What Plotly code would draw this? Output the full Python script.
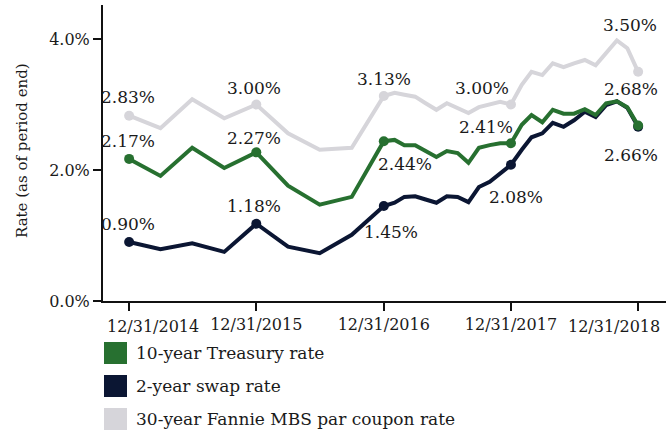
import plotly.graph_objects as go

# ---- data -------------------------------------------------------------
dates = [
    "2014-12-31", "2015-03-31", "2015-06-30", "2015-09-30", "2015-12-31",
    "2016-03-31", "2016-06-30", "2016-09-30", "2016-12-31",
    "2017-01-31", "2017-02-28", "2017-03-31", "2017-04-30", "2017-05-31",
    "2017-06-30", "2017-07-31", "2017-08-31", "2017-09-30", "2017-10-31",
    "2017-11-30", "2017-12-31",
    "2018-01-31", "2018-02-28", "2018-03-31", "2018-04-30", "2018-05-31",
    "2018-06-30", "2018-07-31", "2018-08-31", "2018-09-30", "2018-10-31",
    "2018-11-30", "2018-12-31",
]

treasury_10y = [
    2.17, 1.91, 2.34, 2.03, 2.27, 1.76, 1.47, 1.59, 2.44,
    2.46, 2.38, 2.38, 2.29, 2.20, 2.29, 2.26, 2.11, 2.34, 2.38, 2.41, 2.41,
    2.69, 2.84, 2.73, 2.92, 2.86, 2.86, 2.93, 2.84, 3.02, 3.05, 2.96, 2.68,
]

swap_2y = [
    0.90, 0.79, 0.88, 0.75, 1.18, 0.83, 0.73, 1.01, 1.45,
    1.50, 1.59, 1.60, 1.55, 1.50, 1.60, 1.59, 1.51, 1.74, 1.82, 1.95, 2.08,
    2.31, 2.50, 2.56, 2.72, 2.66, 2.76, 2.89, 2.81, 2.99, 3.05, 2.95, 2.66,
]

mbs_30y = [
    2.83, 2.64, 3.08, 2.79, 3.00, 2.56, 2.31, 2.34, 3.13,
    3.18, 3.15, 3.12, 3.02, 2.92, 3.02, 2.95, 2.87, 2.96, 3.00, 3.04, 3.00,
    3.30, 3.50, 3.45, 3.63, 3.57, 3.63, 3.68, 3.60, 3.79, 3.98, 3.86, 3.50,
]

tick_dates = ["2014-12-31", "2015-12-31", "2016-12-31", "2017-12-31", "2018-12-31"]
tick_labels = ["12/31/2014", "12/31/2015", "12/31/2016", "12/31/2017", "12/31/2018"]

y_tick_vals = [0, 2, 4]
y_tick_labels = ["0.0%", "2.0%", "4.0%"]

series_names = ["10-year Treasury rate", "2-year swap rate",
                "30-year Fannie MBS par coupon rate"]

# ---- styling ----------------------------------------------------------
GREEN = "#277030"
NAVY = "#0b1633"
GRAY = "#d6d5da"
FONT = "DejaVu Serif"
TXT = "#1a1a1a"

# label offsets (px) for year-end labels, per series
offsets = {
    "mbs": [(-1, 19), (-2, 17), (0, 17), (-29, 17), (-8, 47)],
    "tsy": [(-1, 18), (-2, 14), (21, -23), (-25, 16), (-7, 37)],
    "swap": [(-1, 18), (-2, 18), (7, -26), (5, -32), (-7, -28)],
}

year_end_idx = [i for i, d in enumerate(dates) if d.endswith("-12-31")]

fig = go.Figure()

def add_series(y, color, name):
    sizes = [10 if i in year_end_idx else 0 for i in range(len(dates))]
    fig.add_trace(go.Scatter(
        x=dates, y=y, mode="lines+markers", name=name,
        line=dict(color=color, width=4),
        marker=dict(color=color, size=sizes, opacity=1, line=dict(width=0)),
        showlegend=False, hoverinfo="x+y",
    ))

add_series(mbs_30y, GRAY, series_names[2])
add_series(swap_2y, NAVY, series_names[1])
add_series(treasury_10y, GREEN, series_names[0])

for key, y in (("mbs", mbs_30y), ("tsy", treasury_10y), ("swap", swap_2y)):
    for k, i in enumerate(year_end_idx):
        dx, dy = offsets[key][k]
        fig.add_annotation(
            x=dates[i], y=y[i], text=f"{y[i]:.2f}%", showarrow=False,
            xshift=dx, yshift=dy, font=dict(family=FONT, size=17, color=TXT),
        )

# ---- geometry helpers -------------------------------------------------
W, H = 666, 434
ml, mr, mt, mb = 103, 0, 5, 133
pw, ph = W - ml - mr, H - mt - mb

def px_x(px):
    return (px - ml) / pw

def px_y(py):
    return (H - mb - py) / ph

# first and last x tick labels are kept inside the plot area (as in the original)
fig.add_annotation(xref="paper", yref="paper", x=px_x(105), y=px_y(326),
                   xanchor="left", yanchor="middle", showarrow=False,
                   text=tick_labels[0], font=dict(family=FONT, size=16, color=TXT))
fig.add_annotation(xref="paper", yref="paper", x=px_x(662), y=px_y(326),
                   xanchor="right", yanchor="middle", showarrow=False,
                   text=tick_labels[-1], font=dict(family=FONT, size=16, color=TXT))

# ---- manual legend (coloured squares + text) -------------------------
legend_rows = [(342, GREEN, series_names[0]),
               (375, NAVY, series_names[1]),
               (408, GRAY, series_names[2])]
for top, color, name in legend_rows:
    fig.add_shape(type="rect", xref="paper", yref="paper",
                  x0=px_x(104), x1=px_x(127), y0=px_y(top + 22), y1=px_y(top),
                  fillcolor=color, line=dict(width=0))
    fig.add_annotation(xref="paper", yref="paper", x=px_x(134), y=px_y(top + 11),
                       xanchor="left", yanchor="middle", showarrow=False,
                       text=name, font=dict(family=FONT, size=17, color=TXT))

# y-axis title
fig.add_annotation(xref="paper", yref="paper", x=px_x(22), y=px_y(151),
                   text="Rate (as of period end)", textangle=-90, showarrow=False,
                   xanchor="center", yanchor="middle",
                   font=dict(family=FONT, size=15, color=TXT))

fig.update_layout(
    width=W, height=H,
    margin=dict(l=ml, r=mr, t=mt, b=mb, pad=0),
    plot_bgcolor="white", paper_bgcolor="white",
    font=dict(family=FONT, size=16, color=TXT),
    showlegend=False,
)
fig.update_xaxes(
    type="date", range=["2014-10-17", "2019-03-21"],
    tickvals=tick_dates, ticktext=[""] + tick_labels[1:-1] + [""],
    showgrid=False, zeroline=False,
    showline=True, linecolor="#111", linewidth=2,
    ticks="outside", ticklen=8, tickwidth=2, tickcolor="#111",
    tickfont=dict(family=FONT, size=16, color=TXT),
)
fig.update_yaxes(
    range=[0, 4.52], tickvals=y_tick_vals, ticktext=y_tick_labels,
    showgrid=False, zeroline=False,
    showline=True, linecolor="#111", linewidth=2,
    ticks="outside", ticklen=8, tickwidth=2, tickcolor="#111",
    tickfont=dict(family=FONT, size=16, color=TXT),
)

fig.write_html("out.html", config={"displayModeBar": False},
               post_script="document.body.style.margin='0';document.body.style.padding='0';")
